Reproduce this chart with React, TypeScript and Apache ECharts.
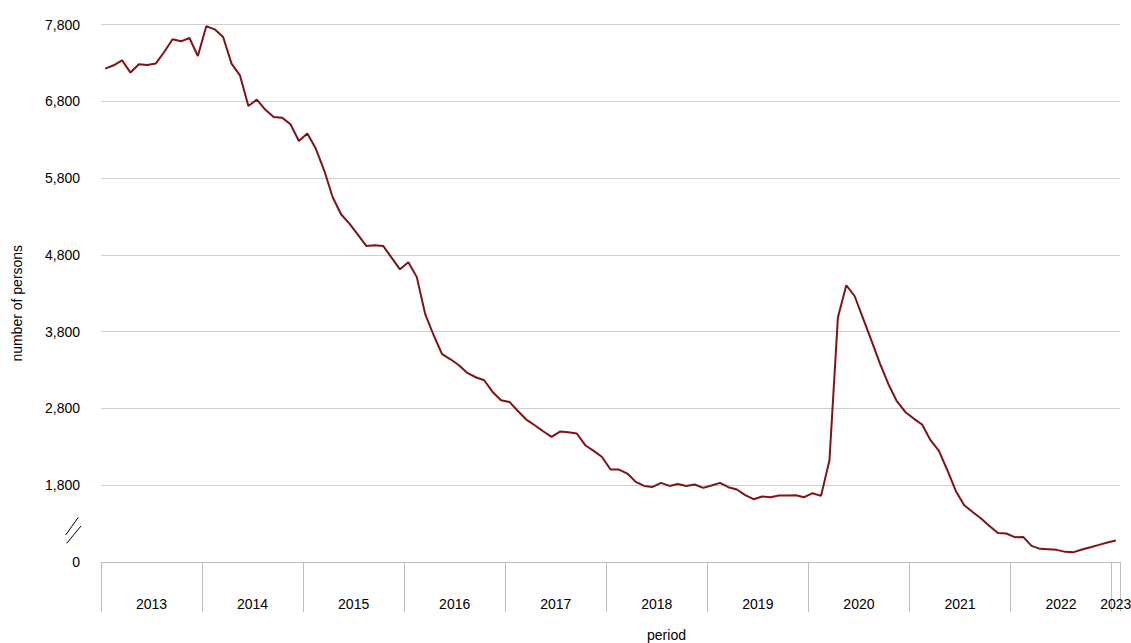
import React, { useEffect, useRef } from "react";
import * as echarts from "echarts";

// ---- data ----
const years = ["2013", "2014", "2015", "2016", "2017", "2018", "2019", "2020", "2021", "2022", "2023"];

const values2013 = [7226, 7269, 7334, 7174, 7282, 7272, 7291, 7442, 7607, 7581, 7624, 7390];
const values2014 = [7777, 7737, 7637, 7291, 7138, 6739, 6822, 6692, 6595, 6587, 6500, 6283];
const values2015 = [6379, 6184, 5901, 5554, 5329, 5207, 5064, 4916, 4925, 4916, 4765, 4612];
const values2016 = [4703, 4510, 4027, 3753, 3506, 3440, 3362, 3262, 3206, 3167, 3015, 2907];
const values2017 = [2885, 2767, 2655, 2581, 2503, 2429, 2499, 2490, 2473, 2321, 2247, 2168];
const values2018 = [2004, 2004, 1952, 1843, 1791, 1778, 1830, 1791, 1817, 1791, 1809, 1765];
const values2019 = [1796, 1830, 1774, 1744, 1670, 1618, 1653, 1644, 1666, 1666, 1670, 1644];
const values2020 = [1696, 1661, 2125, 3983, 4404, 4261, 3970, 3679, 3384, 3115, 2894, 2754];
const values2021 = [2668, 2590, 2386, 2247, 1995, 1726, 1540, 1452, 1366, 1270, 1179, 1171];
const values2022 = [1123, 1127, 1010, 971, 967, 958, 932, 928, 963, 993, 1023, 1054];
const values2023 = [1080];

const values = [
  ...values2013, ...values2014, ...values2015, ...values2016, ...values2017, ...values2018,
  ...values2019, ...values2020, ...values2021, ...values2022, ...values2023,
];

// y axis: broken axis, bottom tick (800) is shown as "0"
const yMin = 800;
const yMax = 7800;
const yStep = 1000;
const yBreakLabel = "0";

const xAxisTitle = "period";
const yAxisTitle = "number of persons";

// month categories
const monthCategories = values.map(
  (_, i) => `${years[Math.floor(i / 12)]}-${String((i % 12) + 1).padStart(2, "0")}`
);

// helper axis in half-month slots for year labels centered in their group and group-separating ticks
const slotCount = monthCategories.length * 2 + 1;
const tickSlots = new Set<number>();
const labelSlots = new Map<number, string>();
years.forEach((y, yi) => {
  const m0 = yi * 12;
  const n = Math.min(12, monthCategories.length - m0);
  tickSlots.add(2 * m0);
  labelSlots.set(2 * m0 + n, y);
});
tickSlots.add(slotCount - 1);
const labelAxisData = Array.from({ length: slotCount }, (_, k) => labelSlots.get(k) ?? "");

export default function App() {
  const ref = useRef<HTMLDivElement>(null);

  useEffect(() => {
    if (!ref.current) return;
    const chart = echarts.init(ref.current, undefined, { renderer: "svg" });
    const font = "'Liberation Sans', Arial, Helvetica, sans-serif";
    chart.setOption({
      animation: false,
      textStyle: { fontFamily: font },
      grid: { left: 101, right: 11, top: 24.5, bottom: 81, containLabel: false, outerBoundsMode: "none" },
      xAxis: [
        {
          type: "category",
          data: monthCategories,
          boundaryGap: true,
          show: false,
        },
        {
          type: "category",
          data: labelAxisData,
          boundaryGap: false,
          position: "bottom",
          axisLine: { show: true, lineStyle: { color: "#bfbfbf", width: 1 } },
          axisTick: {
            show: true,
            length: 50,
            interval: (i: number) => tickSlots.has(i),
            lineStyle: { color: "#bfbfbf", width: 1 },
          },
          axisLabel: {
            show: true,
            interval: (i: number) => labelSlots.has(i),
            margin: 35,
            color: "#000",
            fontSize: 14,
            fontFamily: font,
          },
          splitLine: { show: false },
          name: xAxisTitle,
          nameLocation: "middle",
          nameGap: 66,
          nameTextStyle: { color: "#000", fontSize: 14, fontFamily: font, padding: [0, 0, 0, 112] },
        },
      ],
      yAxis: {
        type: "value",
        min: yMin,
        max: yMax,
        interval: yStep,
        axisLine: { show: false },
        axisTick: { show: false },
        axisLabel: {
          margin: 21,
          color: "#000",
          fontSize: 14,
          fontFamily: font,
          formatter: (v: number) => (v === yMin ? yBreakLabel : v.toLocaleString("en-US")),
        },
        splitLine: { show: true, lineStyle: { color: "#cfcfcf", width: 1 } },
        name: yAxisTitle,
        nameLocation: "middle",
        nameGap: 77,
        nameTextStyle: { color: "#000", fontSize: 14, fontFamily: font, padding: [0, 20, 0, 0] },
      },
      series: [
        {
          type: "line",
          xAxisIndex: 0,
          data: values,
          symbol: "none",
          lineStyle: { color: "#7d1416", width: 2 },
          itemStyle: { color: "#7d1416" },
        },
      ],
      graphic: [
        {
          type: "line",
          shape: { x1: 65.7, y1: 535, x2: 78.3, y2: 517.3 },
          style: { stroke: "#000", lineWidth: 1 },
        },
        {
          type: "line",
          shape: { x1: 66.7, y1: 543.3, x2: 81, y2: 526 },
          style: { stroke: "#000", lineWidth: 1 },
        },
      ],
    });
    return () => chart.dispose();
  }, []);

  return (
    <div
      ref={ref}
      style={{ position: "fixed", left: 0, top: 0, width: 1131, height: 643, background: "#fff" }}
    />
  );
}
